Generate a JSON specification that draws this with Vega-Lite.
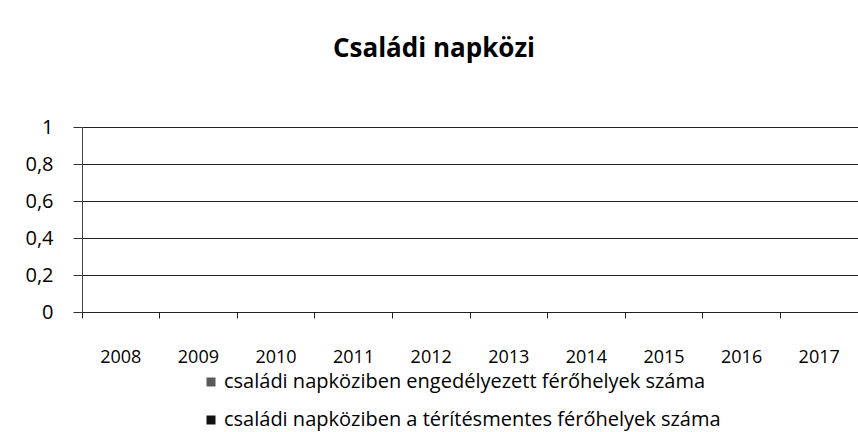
{
  "$schema": "https://vega.github.io/schema/vega-lite/v6.json",
  "autosize": {"type": "none"},
  "padding": {"left": 82, "top": 127, "right": 0, "bottom": 120},
  "width": 776,
  "height": 185,
  "title": {
    "text": "Családi napközi",
    "font": "Open Sans",
    "fontSize": 26,
    "fontWeight": "bold",
    "color": "#000000",
    "anchor": "middle",
    "dx": -36,
    "offset": 55
  },
  "data": {
    "values": [
      {"year": "2008", "series": "családi napköziben engedélyezett férőhelyek száma", "value": 0},
      {"year": "2009", "series": "családi napköziben engedélyezett férőhelyek száma", "value": 0},
      {"year": "2010", "series": "családi napköziben engedélyezett férőhelyek száma", "value": 0},
      {"year": "2011", "series": "családi napköziben engedélyezett férőhelyek száma", "value": 0},
      {"year": "2012", "series": "családi napköziben engedélyezett férőhelyek száma", "value": 0},
      {"year": "2013", "series": "családi napköziben engedélyezett férőhelyek száma", "value": 0},
      {"year": "2014", "series": "családi napköziben engedélyezett férőhelyek száma", "value": 0},
      {"year": "2015", "series": "családi napköziben engedélyezett férőhelyek száma", "value": 0},
      {"year": "2016", "series": "családi napköziben engedélyezett férőhelyek száma", "value": 0},
      {"year": "2017", "series": "családi napköziben engedélyezett férőhelyek száma", "value": 0},
      {"year": "2008", "series": "családi napköziben a térítésmentes férőhelyek száma", "value": 0},
      {"year": "2009", "series": "családi napköziben a térítésmentes férőhelyek száma", "value": 0},
      {"year": "2010", "series": "családi napköziben a térítésmentes férőhelyek száma", "value": 0},
      {"year": "2011", "series": "családi napköziben a térítésmentes férőhelyek száma", "value": 0},
      {"year": "2012", "series": "családi napköziben a térítésmentes férőhelyek száma", "value": 0},
      {"year": "2013", "series": "családi napköziben a térítésmentes férőhelyek száma", "value": 0},
      {"year": "2014", "series": "családi napköziben a térítésmentes férőhelyek száma", "value": 0},
      {"year": "2015", "series": "családi napköziben a térítésmentes férőhelyek száma", "value": 0},
      {"year": "2016", "series": "családi napköziben a térítésmentes férőhelyek száma", "value": 0},
      {"year": "2017", "series": "családi napköziben a térítésmentes férőhelyek száma", "value": 0}
    ]
  },
  "layer": [
    {
      "mark": {"type": "bar"},
      "encoding": {
        "x": {
          "field": "year", "type": "nominal", "sort": null,
          "scale": {"paddingInner": 0, "paddingOuter": 0},
          "axis": {
            "orient": "bottom",
            "title": null, "labelAngle": 0, "ticks": false, "domain": false, "grid": false,
            "labelFont": "Open Sans", "labelFontSize": 18, "labelColor": "#000000",
            "labelPadding": 36
          }
        },
        "xOffset": {"field": "series", "type": "nominal", "sort": null},
        "y": {
          "field": "value", "type": "quantitative",
          "scale": {"domain": [0, 1]},
          "axis": {
            "title": null, "values": [0, 0.2, 0.4, 0.6, 0.8, 1],
            "labelExpr": "replace(toString(datum.value), '.', ',')",
            "labelFont": "Open Sans", "labelFontSize": 20, "labelColor": "#000000",
            "labelPadding": 20, "tickSize": 9, "tickColor": "#333333",
            "domainColor": "#444444", "gridColor": "#222222", "gridWidth": 1
          }
        },
        "color": {
          "field": "series", "type": "nominal", "sort": null,
          "scale": {"range": ["#5a5a5a", "#111111"]},
          "legend": {
            "title": null, "orient": "none", "legendX": 119, "legendY": 245,
            "symbolType": "square", "symbolSize": 81, "labelOffset": 3,
            "labelFont": "Open Sans", "labelFontSize": 20, "labelColor": "#000000",
            "rowPadding": 18, "labelLimit": 750
          }
        }
      }
    },
    {
      "mark": {"type": "tick", "opacity": 0},
      "encoding": {
        "x": {
          "field": "year", "type": "nominal", "sort": null,
          "axis": {
            "orient": "bottom",
            "title": null, "labels": false, "bandPosition": 0, "tickSize": 6,
            "tickColor": "#222222", "domainColor": "#222222", "grid": false
          }
        }
      }
    }
  ],
  "resolve": {"axis": {"x": "independent"}},
  "config": {
    "view": {"stroke": null},
    "axis": {"domainWidth": 1}
  }
}
